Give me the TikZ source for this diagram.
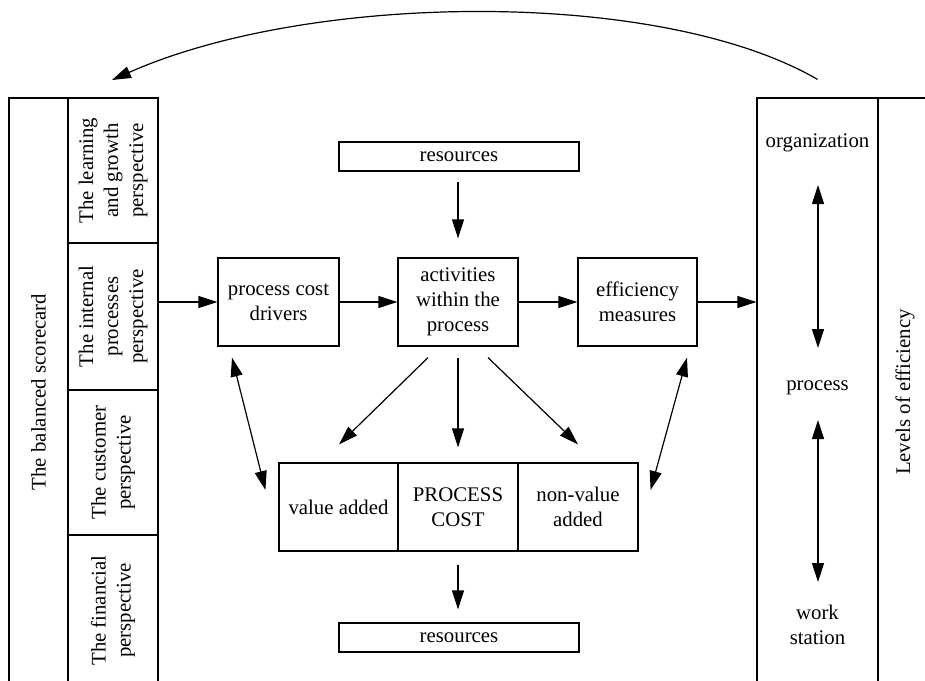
\documentclass[tikz,border=0pt]{standalone}
\usepackage{fontspec}
\setmainfont{Liberation Serif}
\usetikzlibrary{arrows.meta,calc}

\begin{document}
\begin{tikzpicture}[
  x=0.5pt, y=-0.5pt,
  every node/.style={font=\fontsize{10.4pt}{12.5pt}\selectfont},
  cell/.style={draw, line width=0.6pt, inner sep=0pt, align=center},
  txt/.style={inner sep=0pt, align=center},
  arr/.style={line width=0.6pt, -{Triangle[length=9.5pt,width=6pt]}},
  darr/.style={line width=0.6pt, {Triangle[length=9.5pt,width=6pt]}-{Triangle[length=9.5pt,width=6pt]}}
]
\clip (0,0) rectangle (925,680);

% left block: the balanced scorecard and its four perspectives
\node[cell, rotate=90, minimum width=294pt, minimum height=29.5pt] (bsc) at (38.5,392) {The balanced scorecard};
\node[cell, rotate=90, minimum width=72.5pt, minimum height=45pt] (lg) at (113,170.5) {The learning\\and growth\\perspective};
\node[cell, rotate=90, minimum width=73.5pt, minimum height=45pt] (ip) at (113,316.5) {The internal\\processes\\perspective};
\node[cell, rotate=90, minimum width=72.5pt, minimum height=45pt] (cu) at (113,462.5) {The customer\\perspective};
\node[cell, rotate=90, minimum width=75.5pt, minimum height=45pt] (fi) at (113,610.5) {The financial\\perspective};

% right block: levels of efficiency
\node[cell, minimum width=60.5pt, minimum height=294pt] (lev) at (817.5,392) {};
\node[cell, rotate=90, minimum width=294pt, minimum height=27pt] (loe) at (905,392) {Levels of efficiency};
\node[txt] (org) at (817.5,143) {organization};
\node[txt] (proc) at (817.5,388) {process};
\node[txt] (ws) at (817.5,625) {work\\station};

% centre: process cost model
\node[cell, minimum width=120pt, minimum height=14.5pt] (res1) at (459,156.5) {resources};
\node[cell, minimum width=60.5pt, minimum height=44pt] (pcd) at (278.5,302) {process cost\\drivers};
\node[cell, minimum width=60pt, minimum height=44pt] (act) at (458,302) {activities\\within the\\process};
\node[cell, minimum width=59.5pt, minimum height=44pt] (eff) at (637.5,302) {efficiency\\measures};
\node[cell, minimum width=59.5pt, minimum height=44pt] (va) at (338.5,507) {value added};
\node[cell, minimum width=60pt, minimum height=44pt] (pc) at (458,507) {PROCESS\\COST};
\node[cell, minimum width=60pt, minimum height=44pt] (nva) at (578,507) {non-value\\added};
\node[cell, minimum width=120pt, minimum height=14.5pt] (res2) at (459,637.5) {resources};

% connectors
\draw[arr] ($(res1.south)+(-1,10)$) -- ($(act.north)+(0,-19)$);
\draw[arr] (pcd.west -| ip.south) -- (pcd.west);
\draw[arr] (pcd.east) -- (act.west);
\draw[arr] (act.east) -- (eff.west);
\draw[arr] (eff.east) -- (eff.east -| lev.west);

\draw[arr] ($(act.south)+(-30,11)$) -- ($(va.north)+(0.5,-18)$);
\draw[arr] ($(act.south)+(0,11)$) -- ($(pc.north)+(0,-15)$);
\draw[arr] ($(act.south)+(30,11)$) -- ($(nva.north)+(0,-18)$);
\draw[arr] ($(pc.south)+(0,13)$) -- ($(res2.north)+(-1,-13)$);

\draw[darr] ($(pcd.south)+(-46.5,11)$) -- ($(va.west)+(-13,-17)$);
\draw[darr] ($(eff.south)+(49.5,11)$) -- ($(nva.east)+(12,-17)$);

\draw[darr] ($(org)+(0.5,42)$) -- ($(proc)+(0.5,-40)$);
\draw[darr] ($(proc)+(0.5,32)$) -- ($(ws)+(0.5,-43)$);

% feedback arc from the efficiency levels back to the scorecard
\draw[arr] ($(lev.north)+(0,-18)$) .. controls (660,-12) and (310,-8) .. ($(lg.center)+(-1,-90.5)$);
\end{tikzpicture}
\end{document}
